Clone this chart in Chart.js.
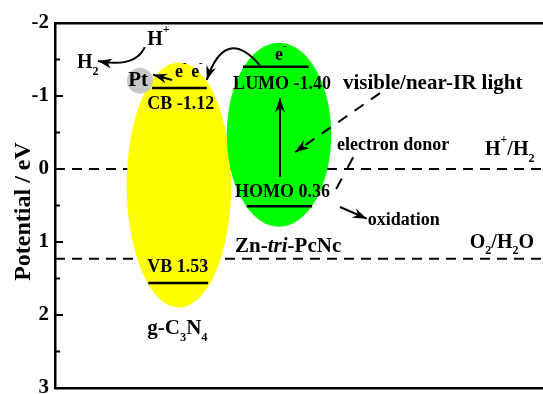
<!DOCTYPE html>
<html>
<head>
<meta charset="utf-8">
<script src="https://cdn.jsdelivr.net/npm/chart.js@4/dist/chart.umd.min.js"></script>
<style>
    html, body { margin: 0; padding: 0; background: #fff; }
    #wrap { width: 543px; height: 394px; }
</style>
</head>
<body>
<div id="wrap"><canvas id="chart"></canvas></div>
<script>
// potential axis (eV, negative up)
const yMajorTicks = [-2, -1, 0, 1, 2, 3];
const yMinorTicks = [-1.5, -0.5, 0.5, 1.5, 2.5];

// redox couples
const redoxNames = ['H+/H2', 'O2/H2O'];
const redoxLevels = [0, 1.23];

// band / orbital levels
const levelNames = ['CB', 'VB', 'LUMO', 'HOMO'];
const levelFrom = [1.99, 1.91, 3.85, 3.93];
const levelTo = [3.11, 3.14, 5.20, 5.27];
const levelPotential = [-1.11, 1.56, -1.40, 0.51];

// the two materials drawn as blobs (centre, half width, half height)
const blobNames = ['g-C3N4', 'Zn-tri-PcNc'];
const blobCenterX = [2.54, 4.59];
const blobCenterY = [0.22, -0.47];
const blobHalfW = [1.07, 1.07];
const blobHalfH = [1.68, 1.26];

// straight arrows
const arrowNames = ['excitation', 'light', 'donor', 'oxidation', 'toPt'];
const arrowX0 = [4.61, 6.66, 6.11, 5.84, 2.40];
const arrowY0 = [0.11, -1.04, -0.16, 0.52, -1.22];
const arrowX1 = [4.61, 4.92, 5.74, 6.39, 2.01];
const arrowY1 = [-0.97, -0.23, 0.30, 0.68, -1.29];
const arrowHasHead = [true, true, false, true, true];
const arrowDashed = [false, true, true, false, false];

// curved arrows (start, control, end)
const curveX0 = [1.84, 4.20];
const curveY0 = [-1.67, -1.42];
const curveCX = [1.64, 3.48];
const curveCY = [-1.38, -1.97];
const curveX1 = [0.88, 3.11];
const curveY1 = [-1.48, -1.22];

// Pt co-catalyst
const ptX = 1.74;
const ptY = -1.21;

// text labels (^{} superscript, _{} subscript, *..* italic)
const labelText = ['visible/near-IR light', 'electron donor', 'oxidation', 'H^{+}/H_{2}', 'O_{2}/H_{2}O',
    'Zn-*tri*-PcNc', 'g-C_{3}N_{4}', 'CB -1.12', 'LUMO -1.40', 'HOMO 0.36', 'VB 1.53',
    'H^{+}', 'H_{2}', 'Pt', 'e^{-} e^{-}', 'e^{-}'];
const labelX = [5.90, 5.78, 6.41, 8.81, 8.50, 3.69, 1.89, 1.89, 3.65, 3.69, 1.89, 1.89, 0.45, 1.50, 2.46, 4.51];
const labelY = [-1.10, -0.26, 0.77, -0.19, 1.08, 1.14, 2.26, -0.82, -1.10, 0.38, 1.41, -1.70, -1.38, -1.14, -1.26, -1.49];
const labelSize = [21, 18, 18, 20, 20, 21, 21, 18, 18, 18, 18, 20, 20, 21, 18, 18];

const FONT = '"Liberation Serif", "Times New Roman", serif';
const blobColors = ['#ffff00', '#00ff00'];

function drawRich(ctx, str, x, y, size) {
    const parts = str.split(/(\^\{[^}]*\}|_\{[^}]*\}|\*[^*]*\*)/).filter(s => s);
    let cx = x;
    for (const p of parts) {
        let t = p, fs = size, dy = 0, style = '';
        if (p.startsWith('^{')) { t = p.slice(2, -1); fs = size * 0.6; dy = -size * 0.6; }
        else if (p.startsWith('_{')) { t = p.slice(2, -1); fs = size * 0.6; dy = size * 0.32; }
        else if (p.startsWith('*')) { t = p.slice(1, -1); style = 'italic '; }
        ctx.font = style + 'bold ' + fs + 'px ' + FONT;
        ctx.fillText(t, cx, y + dy);
        cx += ctx.measureText(t).width;
    }
}

function arrowHead(ctx, x0, y0, x1, y1, len, w) {
    const a = Math.atan2(y1 - y0, x1 - x0);
    ctx.save();
    ctx.translate(x1, y1);
    ctx.rotate(a);
    ctx.beginPath();
    ctx.moveTo(0, 0);
    ctx.lineTo(-len, w);
    ctx.lineTo(-len * 0.7, 0);
    ctx.lineTo(-len, -w);
    ctx.closePath();
    ctx.fill();
    ctx.restore();
}

let blobsDrawn = false;
const schemePlugin = {
    id: 'scheme',
    beforeDatasetsDraw() { blobsDrawn = false; },
    beforeDatasetDraw(chart, args) {
        // blobs go above the redox dashes but below the levels
        if (blobsDrawn || args.meta.order !== 1) return;
        blobsDrawn = true;
        const ctx = chart.ctx, xs = chart.scales.x, ys = chart.scales.y;
        ctx.save();
        for (let i = 0; i < blobNames.length; i++) {
            const cx = xs.getPixelForValue(blobCenterX[i]);
            const cy = ys.getPixelForValue(blobCenterY[i]);
            const rx = xs.getPixelForValue(blobCenterX[i] + blobHalfW[i]) - cx;
            const ry = ys.getPixelForValue(blobCenterY[i] + blobHalfH[i]) - cy;
            ctx.fillStyle = blobColors[i];
            ctx.beginPath();
            ctx.ellipse(cx, cy, Math.abs(rx), Math.abs(ry), 0, 0, Math.PI * 2);
            ctx.fill();
        }
        ctx.restore();
    },
    afterDatasetsDraw(chart) {
        const ctx = chart.ctx, xs = chart.scales.x, ys = chart.scales.y;
        const X = v => xs.getPixelForValue(v), Y = v => ys.getPixelForValue(v);
        ctx.save();
        ctx.fillStyle = '#000';
        ctx.strokeStyle = '#000';

        // arrow heads
        for (let i = 0; i < arrowNames.length; i++) {
            if (!arrowHasHead[i]) continue;
            arrowHead(ctx, X(arrowX0[i]), Y(arrowY0[i]), X(arrowX1[i]), Y(arrowY1[i]), 14, 5);
        }

        // curved arrows
        ctx.lineWidth = 2;
        for (let i = 0; i < curveX0.length; i++) {
            ctx.beginPath();
            ctx.moveTo(X(curveX0[i]), Y(curveY0[i]));
            ctx.quadraticCurveTo(X(curveCX[i]), Y(curveCY[i]), X(curveX1[i]), Y(curveY1[i]));
            ctx.stroke();
            arrowHead(ctx, X(curveCX[i]), Y(curveCY[i]), X(curveX1[i]), Y(curveY1[i]), 14, 5);
        }

        // Pt particle
        ctx.fillStyle = '#c8c8c8';
        ctx.beginPath();
        ctx.arc(X(ptX), Y(ptY), 13, 0, Math.PI * 2);
        ctx.fill();

        // labels
        ctx.fillStyle = '#000';
        ctx.textAlign = 'left';
        ctx.textBaseline = 'alphabetic';
        for (let i = 0; i < labelText.length; i++) {
            drawRich(ctx, labelText[i], X(labelX[i]), Y(labelY[i]), labelSize[i]);
        }

        // inward ticks on the potential axis
        const left = chart.chartArea.left;
        ctx.lineWidth = 2;
        ctx.beginPath();
        yMajorTicks.forEach(v => { ctx.moveTo(left, Y(v)); ctx.lineTo(left + 8, Y(v)); });
        yMinorTicks.forEach(v => { ctx.moveTo(left, Y(v)); ctx.lineTo(left + 5, Y(v)); });
        ctx.stroke();

        // axis title
        ctx.translate(24, (chart.chartArea.top + chart.chartArea.bottom) / 2 + 6);
        ctx.rotate(-Math.PI / 2);
        ctx.textAlign = 'center';
        ctx.textBaseline = 'middle';
        ctx.font = 'bold 24px ' + FONT;
        ctx.fillText('Potential / eV', 0, 0);
        ctx.restore();
    }
};

const datasets = [];
redoxLevels.forEach((v, i) => datasets.push({
    label: redoxNames[i],
    data: [{ x: 0, y: v }, { x: 10, y: v }],
    borderColor: '#000', borderWidth: 2, borderDash: [10, 7],
    showLine: true, pointRadius: 0, order: 2
}));
levelNames.forEach((n, i) => datasets.push({
    label: n,
    data: [{ x: levelFrom[i], y: levelPotential[i] }, { x: levelTo[i], y: levelPotential[i] }],
    borderColor: '#000', borderWidth: 2.5,
    showLine: true, pointRadius: 0, order: 1
}));
arrowNames.forEach((n, i) => datasets.push({
    label: n,
    data: [{ x: arrowX0[i], y: arrowY0[i] }, { x: arrowX1[i], y: arrowY1[i] }],
    borderColor: '#000', borderWidth: 2,
    borderDash: arrowDashed[i] ? (n === 'donor' ? [12, 12] : [11, 9]) : [],
    showLine: true, pointRadius: 0, order: 1
}));

const flatX = {
    type: 'linear', min: 0, max: 10,
    ticks: { display: false },
    grid: { display: false, drawTicks: false },
    border: { display: true, color: '#000', width: 2.5 },
    afterFit: s => { s.height = 0; }
};

new Chart(document.getElementById('chart'), {
    type: 'scatter',
    data: { datasets },
    options: {
        responsive: true,
        maintainAspectRatio: false,
        animation: false,
        devicePixelRatio: 1,
        layout: { padding: { left: 0, right: 0, top: 23, bottom: 6 } },
        plugins: { legend: { display: false }, tooltip: { enabled: false } },
        scales: {
            x: Object.assign({ position: 'bottom' }, flatX),
            xTop: Object.assign({ position: 'top' }, flatX),
            y: {
                type: 'linear', reverse: true, min: -2, max: 3,
                afterBuildTicks: s => { s.ticks = yMajorTicks.map(v => ({ value: v })); },
                ticks: { color: '#000', padding: 6, font: { family: FONT, size: 21, weight: 'bold' } },
                grid: { display: false, drawTicks: false },
                border: { display: true, color: '#000', width: 2.5 },
                afterFit: s => { s.width = 55; s.paddingTop = 0; s.paddingBottom = 0; }
            }
        }
    },
    plugins: [schemePlugin]
});
</script>
</body>
</html>
